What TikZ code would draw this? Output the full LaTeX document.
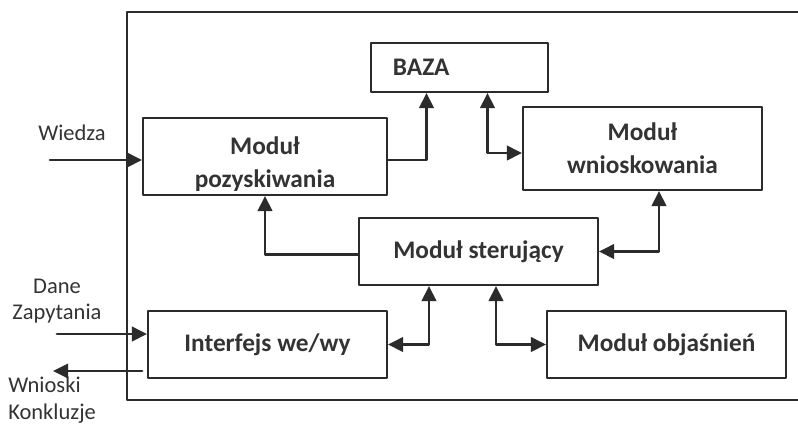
\documentclass[tikz,border=0pt]{standalone}
\usepackage{fontspec}
\setmainfont{Carlito}
\usetikzlibrary{arrows.meta,calc}
\definecolor{ramka}{rgb}{0.17,0.17,0.17}
\definecolor{tekst}{rgb}{0.2,0.2,0.2}

\begin{document}
\begin{tikzpicture}[line cap=round,line join=round,x=0.025cm,y=-0.025cm,
	modul/.style={draw=ramka,line width=1.3pt,inner sep=0pt,align=center,text=tekst,font=\bfseries\fontsize{18}{23.5}\selectfont},
	etykieta/.style={text=tekst,inner sep=0pt,font=\fontsize{16}{19}\selectfont},
	strz/.style={draw=ramka,line width=2pt,-{Triangle[length=0.38cm,width=0.36cm]}},
	dwu/.style={draw=ramka,line width=2pt,{Triangle[length=0.38cm,width=0.36cm]}-{Triangle[length=0.38cm,width=0.36cm]}}]
	\useasboundingbox (0,0) rectangle (798,424);
	\draw [ramka,line width=1.4pt] (798,12) -- (127,12) -- (127,400) -- (798,400);

	% moduly
	\node[modul,text width=3.325cm,inner xsep=0.55cm,align=left,minimum height=1.225cm] (baza) at (459.5,67.5) {BAZA};
	\node[modul,minimum width=6.1cm,minimum height=1.925cm] (pozysk) at (265,156.5) {\rule{0pt}{0.8cm}Moduł\\pozyskiwania};
	\node[modul,minimum width=5.975cm,minimum height=2.075cm] (wnios) at (642.5,148.5) {Moduł\\wnioskowania};
	\node[modul,minimum width=5.975cm,minimum height=1.675cm] (ster) at (478.5,251.5) {Moduł sterujący};
	\node[modul,minimum width=5.975cm,minimum height=1.675cm] (inter) at (267.5,344.5) {Interfejs we/wy};
	\node[modul,minimum width=5.975cm,minimum height=1.675cm] (objas) at (666.5,344.5) {Moduł objaśnień};

	\node[etykieta] (wiedza) at (72,133) {Wiedza};
	\node[etykieta,align=center] (dane) at (57,301) {Dane\\Zapytania};
	\node[etykieta,align=left,anchor=west] (wnioski) at (8,400) {Wnioski\\Konkluzje};
	\coordinate (wiedzaIn) at (50,160);
	\coordinate (daneIn) at (57,334);
	\coordinate (wnioskiOut) at (53,371);

	% polaczenia
	\draw[strz] (wiedzaIn) -- (wiedzaIn -| pozysk.west);
	\draw[strz] (daneIn) -- (daneIn -| inter.west);
	\draw[strz] ($(inter.west |- wnioskiOut)+(-5,0)$) -- (wnioskiOut);
	\draw[strz] (pozysk.east |- wiedzaIn) -| ($(baza.south)+(-33,0)$);
	\draw[dwu] ($(baza.south)+(28,0)$) |- ($(wnios.west)+(0,4.5)$);
	\draw[strz] ($(ster.west)+(0,3)$) -| (pozysk.south);
	\draw[dwu] (ster.east) -| ($(wnios.south)+(16.5,0)$);
	\draw[dwu] (inter.east) -| ($(ster.south)+(-49.5,0)$);
	\draw[dwu] ($(ster.south)+(17.5,0)$) |- (objas.west);
\end{tikzpicture}
\end{document}
